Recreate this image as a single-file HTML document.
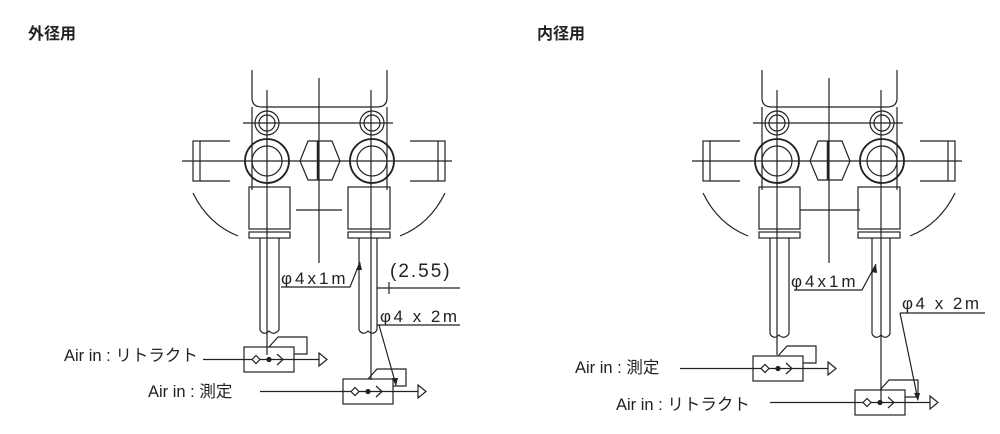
<!DOCTYPE html>
<html><head><meta charset="utf-8"><style>
html,body{margin:0;padding:0;background:#fff;}
svg{display:block;}
text{font-family:"Liberation Sans","Noto Sans CJK JP",sans-serif;fill:#222;}
</style></head><body>
<svg width="1000" height="434" viewBox="0 0 1000 434" xmlns="http://www.w3.org/2000/svg">
<defs>
<g id="top" fill="none" stroke="#222" stroke-width="1.2">
  <path d="M252 70 V98 Q252 107 262 107 H377 Q387 107 387 98 V70"/>
  <line x1="252" y1="107" x2="252" y2="190"/>
  <line x1="387" y1="107" x2="387" y2="190"/>
  <circle cx="267" cy="123" r="12"/><circle cx="267" cy="123" r="8"/>
  <circle cx="372" cy="123" r="12"/><circle cx="372" cy="123" r="8"/>
  <line x1="243" y1="123" x2="393" y2="123"/>
  <circle cx="267" cy="161" r="22" stroke-width="1.8"/><circle cx="267" cy="161" r="15"/>
  <circle cx="372" cy="161" r="22" stroke-width="1.8"/><circle cx="372" cy="161" r="15"/>
  <polygon points="300,161 308,141 332,141 340,161 332,180 308,180"/>
  <line x1="318" y1="141" x2="318" y2="180" stroke-width="2.5"/>
  <line x1="319" y1="78" x2="319" y2="263"/>
  <line x1="182" y1="161" x2="452" y2="161"/>
  <rect x="193" y="141" width="7" height="40"/>
  <path d="M200 141 H230 M200 181 H230"/>
  <rect x="438" y="141" width="7" height="40"/>
  <path d="M410 141 H438 M410 181 H438"/>
  <path d="M193 193 Q208 224 238 236"/>
  <path d="M445 193 Q430 224 400 236"/>
  <rect x="249" y="187" width="41" height="42"/>
  <rect x="348" y="187" width="42" height="42"/>
  <rect x="249" y="232" width="41" height="6"/>
  <rect x="348" y="232" width="42" height="6"/>
  <line x1="267" y1="90" x2="267" y2="355"/>
  <line x1="371" y1="90" x2="371" y2="380"/>
</g>
<g id="valve" fill="none" stroke="#222" stroke-width="1.2">
  <rect x="0" y="0" width="50" height="25"/>
  <line x1="0" y1="12.5" x2="75" y2="12.5"/>
  <polygon points="75,6 83,12.5 75,19" fill="#fff"/>
  <polygon points="8,12.5 12,8.5 16,12.5 12,16.5" fill="#fff"/>
  <path d="M33 7 L39 12.5 L33 18"/>
  <circle cx="25" cy="12.5" r="2" fill="#222"/>
  <path d="M25 0 L34 -10 H63 V7 H50"/>
</g>
</defs>

<text x="28" y="39" font-size="16" font-weight="bold">外径用</text>
<text x="537" y="39" font-size="16" font-weight="bold">内径用</text>

<!-- LEFT -->
<use href="#top"/>
<g fill="none" stroke="#222" stroke-width="1.2">
  <path d="M260 238 V330 M279 238 V330"/>
  <path d="M260 330 Q264 336 269 331 Q274 336 279 330"/>
  <path d="M359 238 V330 M377 238 V330"/>
  <path d="M359 330 Q363 336 368 331 Q373 336 377 330"/>
  <path d="M296 210 H342"/>
  <path d="M281 287 H350 L360 262"/>
  <path d="M377 288 H460 M389 282 V294"/>
  <path d="M377 325 H460 M379 325 L396 385"/>
</g>
<polygon points="360,262 356,270 362,270" fill="#222"/>
<polygon points="396,386 392,378 398,378" fill="#222"/>
<use href="#valve" transform="translate(244,347)"/>
<use href="#valve" transform="translate(343,379)"/>
<line x1="203" y1="359.5" x2="244" y2="359.5" stroke="#222" stroke-width="1.2"/>
<line x1="260" y1="391.5" x2="343" y2="391.5" stroke="#222" stroke-width="1.2"/>
<text x="281" y="284" font-size="17" letter-spacing="3">φ4x1m</text>
<text x="390" y="277" font-size="19" letter-spacing="2">(2.55)</text>
<text x="380" y="322" font-size="17" letter-spacing="2.5">φ4 x 2m</text>
<text x="64" y="361" font-size="16.5">Air in : リトラクト</text>
<text x="148" y="397" font-size="16.5">Air in : 測定</text>

<!-- RIGHT -->
<use href="#top" transform="translate(510,0)"/>
<g fill="none" stroke="#222" stroke-width="1.2">
  <path d="M770 238 V334 M789 238 V334"/>
  <path d="M770 334 Q774 340 779 335 Q784 340 789 334"/>
  <path d="M872 238 V334 M890 238 V334"/>
  <path d="M872 334 Q876 340 881 335 Q886 340 890 334"/>
  <path d="M800 210 H860"/>
  <path d="M794 290 H862 L876 264"/>
  <path d="M900 313 H985 M900 313 L918 400"/>
  <line x1="881" y1="380" x2="881" y2="402"/>
</g>
<polygon points="876,264 871,272 877,273" fill="#222"/>
<polygon points="918,401 914,393 920,393" fill="#222"/>
<use href="#valve" transform="translate(753,356)"/>
<use href="#valve" transform="translate(855,390)"/>
<line x1="680" y1="368.5" x2="753" y2="368.5" stroke="#222" stroke-width="1.2"/>
<line x1="770" y1="402.5" x2="855" y2="402.5" stroke="#222" stroke-width="1.2"/>
<text x="791" y="287" font-size="17" letter-spacing="3">φ4x1m</text>
<text x="902" y="309" font-size="17" letter-spacing="2.5">φ4 x 2m</text>
<text x="575" y="373" font-size="16.5">Air in : 測定</text>
<text x="616" y="410" font-size="16.5">Air in : リトラクト</text>
</svg>
</body></html>
